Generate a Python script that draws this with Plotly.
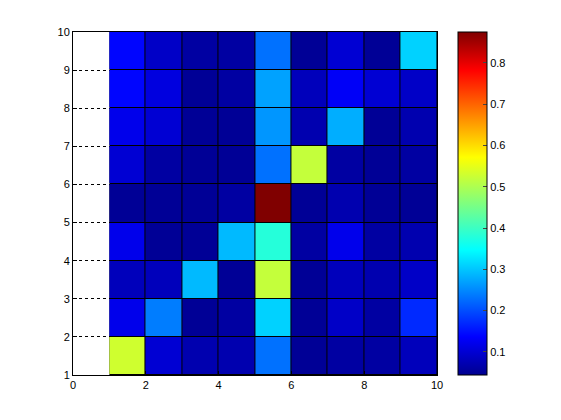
import plotly.graph_objects as go

x_edges = [1, 2, 3, 4, 5, 6, 7, 8, 9, 10]
y_edges = [1, 2, 3, 4, 5, 6, 7, 8, 9, 10]

# rows bottom to top, columns left to right
z = [
    [0.53, 0.10, 0.07, 0.07, 0.23, 0.05, 0.06, 0.06, 0.08],
    [0.12, 0.24, 0.05, 0.06, 0.31, 0.05, 0.09, 0.06, 0.17],
    [0.08, 0.08, 0.29, 0.05, 0.52, 0.05, 0.08, 0.07, 0.09],
    [0.12, 0.05, 0.05, 0.29, 0.38, 0.06, 0.12, 0.06, 0.07],
    [0.05, 0.05, 0.05, 0.06, 0.875, 0.05, 0.07, 0.05, 0.05],
    [0.10, 0.06, 0.05, 0.05, 0.23, 0.52, 0.06, 0.05, 0.06],
    [0.12, 0.10, 0.05, 0.05, 0.26, 0.07, 0.28, 0.05, 0.07],
    [0.14, 0.11, 0.05, 0.06, 0.27, 0.08, 0.13, 0.10, 0.09],
    [0.14, 0.09, 0.06, 0.06, 0.23, 0.05, 0.10, 0.05, 0.31],
]

jet = [
    [0.0, "rgb(0,0,143)"], [0.111, "rgb(0,0,255)"], [0.365, "rgb(0,255,255)"],
    [0.5, "rgb(127,255,127)"], [0.635, "rgb(255,255,0)"], [0.889, "rgb(255,0,0)"],
    [1.0, "rgb(128,0,0)"],
]

fig = go.Figure()
fig.add_shape(type="rect", x0=1, x1=10, y0=1, y1=10, fillcolor="black",
              line_width=0, layer="below")
fig.add_trace(go.Heatmap(
    x=x_edges, y=y_edges, z=z, colorscale=jet, zmin=0.044, zmax=0.875,
    xgap=1, ygap=1,
    colorbar=dict(thickness=29, lenmode="pixels", len=343, y=0.5, yanchor="middle",
                  x=1.058, xanchor="left", xpad=0, ypad=0,
                  tickvals=[0.1, 0.2, 0.3, 0.4, 0.5, 0.6, 0.7, 0.8],
                  ticks="inside", ticklen=4, outlinecolor="black", outlinewidth=1,
                  tickfont=dict(family="Liberation Sans", size=11, color="black")),
))

axis_common = dict(showline=True, linecolor="black", mirror=True, ticks="inside",
                   ticklen=4, tickcolor="black", zeroline=False, automargin=False,
                   tickfont=dict(family="Liberation Sans", size=11, color="black"))
fig.update_xaxes(range=[0, 10], dtick=2, showgrid=False, **axis_common)
fig.update_yaxes(range=[1, 10], dtick=1, showgrid=True, gridcolor="black",
                 griddash="dot", gridwidth=1, **axis_common)
fig.update_layout(width=561, height=420, plot_bgcolor="white", paper_bgcolor="white",
                  margin=dict(l=65, r=132, t=24, b=53, autoexpand=False))
fig.write_html("out.html")
